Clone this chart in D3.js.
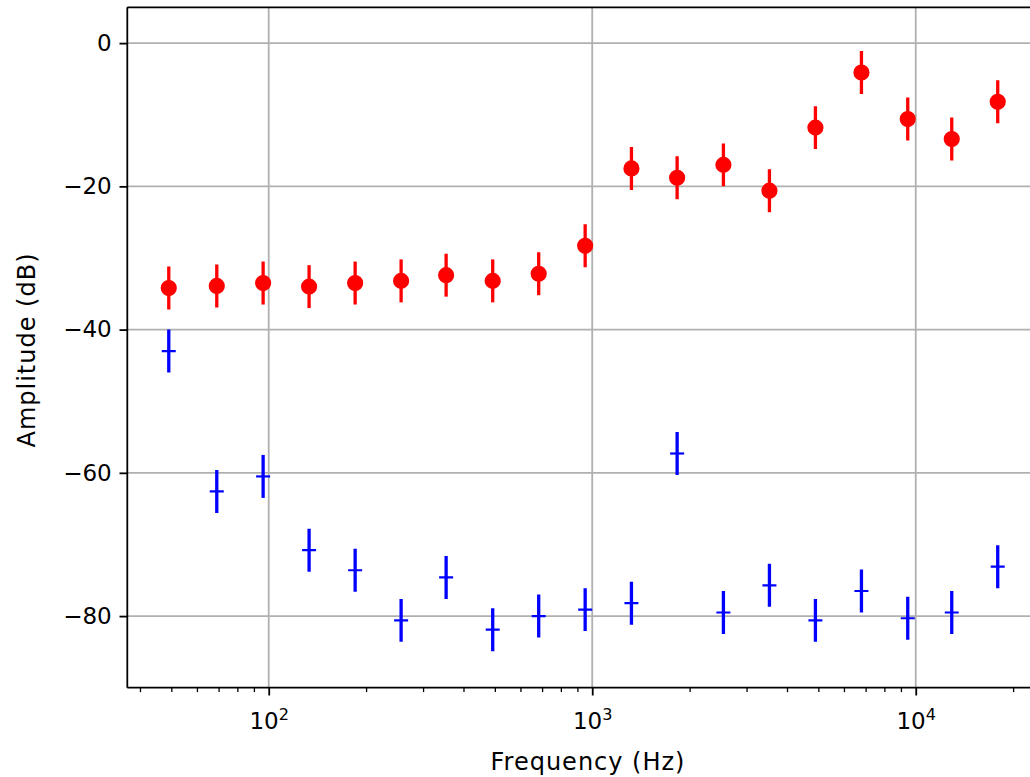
<!DOCTYPE html>
<html>
<head>
<meta charset="utf-8">
<script src="https://cdn.jsdelivr.net/npm/d3@7"></script>
<style>
  html, body { margin: 0; padding: 0; background: #fff; }
  text { font-family: "DejaVu Sans", sans-serif; fill: #000; }
</style>
</head>
<body>
<svg id="chart" width="1030" height="777"></svg>
<script>
// ---- data ----
const frequencies = [49.1, 69.1, 96.1, 133.3, 185.0, 256.6, 353.5, 492.5, 683.2, 951,
                     1322, 1830, 2544, 3530, 4897, 6795, 9447, 12922, 17925];
const redAmplitude = [-34.2, -33.9, -33.5, -34.0, -33.5, -33.2, -32.4, -33.2, -32.2, -28.3,
                      -17.5, -18.8, -17.0, -20.6, -11.8, -4.1, -10.6, -13.4, -8.2];
const redError = 3;
const blueAmplitude = [-43.0, -62.6, -60.5, -70.8, -73.6, -80.6, -74.6, -81.9, -80.0, -79.1,
                       -78.2, -57.3, -79.5, -75.7, -80.6, -76.5, -80.3, -79.5, -73.1];
const blueError = 3;
const yTickValues = [0, -20, -40, -60, -80];
const xMajorTicks = [100, 1000, 10000];
const xMajorExponents = ["2", "3", "4"];
const xLabel = "Frequency (Hz)";
const yLabel = "Amplitude (dB)";

(function () {
// ---- layout ----
const svg = d3.select("#chart");
const pL = 127.3, pT = 7.3, pB = 687.7, pR = 1039.2;
const x = d3.scaleLog().domain([36.55, 24080]).range([pL, pR]);
const y = d3.scaleLinear().domain([-90, 5]).range([pB, pT]);
const tickFont = 23;
const labelFont = 24;

svg.append("defs").append("clipPath").attr("id", "plotclip")
  .append("rect").attr("x", pL).attr("y", pT).attr("width", pR - pL).attr("height", pB - pT);

// grid
const grid = svg.append("g");
grid.selectAll("line.gx").data(xMajorTicks).join("line").attr("class", "gx")
  .attr("x1", d => x(d)).attr("x2", d => x(d)).attr("y1", pT).attr("y2", pB)
  .attr("stroke", "#b0b0b0").attr("stroke-width", 1.8);
grid.selectAll("line.gy").data(yTickValues).join("line").attr("class", "gy")
  .attr("x1", pL).attr("x2", pR).attr("y1", d => y(d)).attr("y2", d => y(d))
  .attr("stroke", "#b0b0b0").attr("stroke-width", 1.8);

// data
const plot = svg.append("g").attr("clip-path", "url(#plotclip)");
const red = frequencies.map((f, i) => ({f, v: redAmplitude[i]}));
const blue = frequencies.map((f, i) => ({f, v: blueAmplitude[i]}));

plot.selectAll("line.rerr").data(red).join("line").attr("class", "rerr")
  .attr("x1", d => x(d.f)).attr("x2", d => x(d.f))
  .attr("y1", d => y(d.v - redError)).attr("y2", d => y(d.v + redError))
  .attr("stroke", "#ff0000").attr("stroke-width", 3.3);
plot.selectAll("circle.rpt").data(red).join("circle").attr("class", "rpt")
  .attr("cx", d => x(d.f)).attr("cy", d => y(d.v)).attr("r", 7.0)
  .attr("fill", "#ff0000").attr("stroke", "#ff0000").attr("stroke-width", 2.2);

plot.selectAll("line.berr").data(blue).join("line").attr("class", "berr")
  .attr("x1", d => x(d.f)).attr("x2", d => x(d.f))
  .attr("y1", d => y(d.v - blueError)).attr("y2", d => y(d.v + blueError))
  .attr("stroke", "#0000ff").attr("stroke-width", 3.3);
plot.selectAll("line.bplus").data(blue).join("line").attr("class", "bplus")
  .attr("x1", d => x(d.f) - 7).attr("x2", d => x(d.f) + 7)
  .attr("y1", d => y(d.v)).attr("y2", d => y(d.v))
  .attr("stroke", "#0000ff").attr("stroke-width", 2.2);

// axes
const xAxis = d3.axisBottom(x).tickValues(xMajorTicks).tickFormat("")
  .tickSize(7.8).tickSizeOuter(0);
const minorTicks = [];
[10, 100, 1000, 10000].forEach(dec => { for (let k = 2; k <= 9; k++) { const v = dec * k; if (v > 36.55 && v < 24080) minorTicks.push(v); } });
const xMinor = d3.axisBottom(x).tickValues(minorTicks).tickFormat("").tickSize(4.4).tickSizeOuter(0);

const gxMinor = svg.append("g").attr("transform", `translate(0,${pB})`).call(xMinor);
gxMinor.select(".domain").remove();
gxMinor.selectAll(".tick line").attr("stroke", "#000").attr("stroke-width", 1.3);

const gx = svg.append("g").attr("transform", `translate(0,${pB})`).call(xAxis);
gx.select(".domain").remove();
gx.selectAll(".tick line").attr("stroke", "#000").attr("stroke-width", 1.8);
gx.selectAll(".tick").each(function(d, i) {
  const t = d3.select(this).append("text")
    .attr("y", 41).attr("text-anchor", "middle").style("font-size", tickFont + "px");
  t.append("tspan").text("10");
  t.append("tspan").attr("dy", -9).style("font-size", (tickFont * 0.7) + "px").text(xMajorExponents[i]);
});

const yAxis = d3.axisLeft(y).tickValues(yTickValues)
  .tickFormat(d => d < 0 ? "\u2212" + Math.abs(d) : String(d))
  .tickSize(7.8).tickPadding(7.8).tickSizeOuter(0);
const gy = svg.append("g").attr("transform", `translate(${pL},0)`).call(yAxis);
gy.select(".domain").remove();
gy.selectAll(".tick line").attr("stroke", "#000").attr("stroke-width", 1.8);
gy.selectAll(".tick text").style("font-size", tickFont + "px").attr("font-family", "DejaVu Sans");

// spines
svg.append("line").attr("x1", pL).attr("x2", pL).attr("y1", pT).attr("y2", pB)
  .attr("stroke", "#000").attr("stroke-width", 1.8);
svg.append("line").attr("x1", pL).attr("x2", pR).attr("y1", pB).attr("y2", pB)
  .attr("stroke", "#000").attr("stroke-width", 1.8);
svg.append("line").attr("x1", pL).attr("x2", pR).attr("y1", pT).attr("y2", pT)
  .attr("stroke", "#000").attr("stroke-width", 1.8);
svg.append("line").attr("x1", pR).attr("x2", pR).attr("y1", pT).attr("y2", pB)
  .attr("stroke", "#000").attr("stroke-width", 1.8);

// labels
svg.append("text").attr("x", 588).attr("y", 770)
  .attr("text-anchor", "middle").style("font-size", labelFont + "px")
  .style("letter-spacing", "1px").text(xLabel);
svg.append("text").attr("transform", `translate(35,350) rotate(-90)`)
  .attr("text-anchor", "middle").style("font-size", labelFont + "px")
  .style("letter-spacing", "1px").text(yLabel);
})();
</script>
</body>
</html>
